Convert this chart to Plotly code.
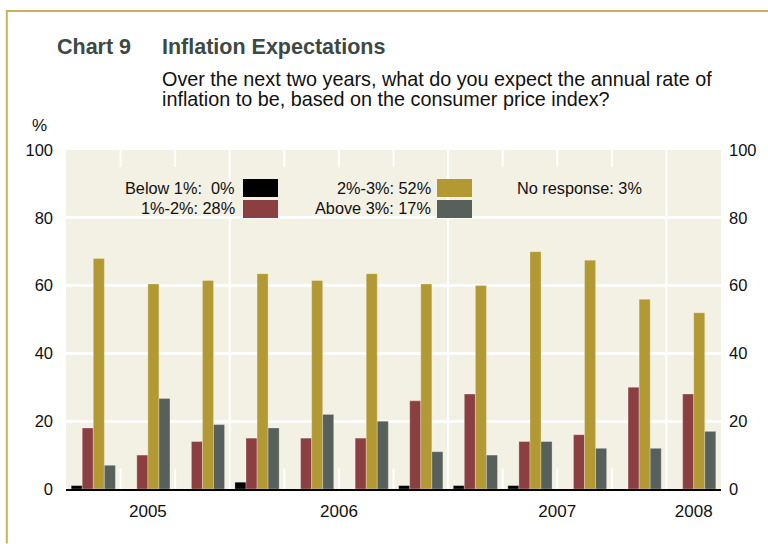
import plotly.graph_objects as go

# ---- data ----
quarters = ["2005Q2", "2005Q3", "2005Q4",
            "2006Q1", "2006Q2", "2006Q3", "2006Q4",
            "2007Q1", "2007Q2", "2007Q3", "2007Q4",
            "2008Q1"]
below_1 = [1, 0, 0, 2, 0, 0, 1, 1, 1, 0, 0, 0]
one_two = [18, 10, 14, 15, 15, 15, 26, 28, 14, 16, 30, 28]
two_three = [68, 60.5, 61.5, 63.5, 61.5, 63.5, 60.5, 60, 70, 67.5, 56, 52]
above_3 = [7, 26.7, 19, 18, 22, 20, 11, 10, 14, 12, 12, 17]
year_labels = ["2005", "2006", "2007", "2008"]
year_quarters = [3, 4, 4, 1]
legend_text = {
    "below": "Below 1%:\u00a0 0%",
    "onetwo": "1%-2%: 28%",
    "twothree": "2%-3%: 52%",
    "above": "Above 3%: 17%",
    "none": "No response: 3%",
}

C_BLACK = "#000000"
C_RED = "#8B3F40"
C_GOLD = "#B39934"
C_GRAY = "#57605A"
BG = "#F3F0E4"
FONT = "Liberation Sans, Arial, sans-serif"

W, H = 768, 544
L, R, T, B = 66, 47, 150, 54.5
PW, PH = W - L - R, H - T - B


def px(x):
    return (x - L) / PW


def py(y):
    return (H - B - y) / PH


xs = list(range(len(quarters)))
fig = go.Figure()
for name, vals, col in [("Below 1%", below_1, C_BLACK), ("1%-2%", one_two, C_RED),
                        ("2%-3%", two_three, C_GOLD), ("Above 3%", above_3, C_GRAY)]:
    fig.add_trace(go.Bar(x=xs, y=vals, name=name, marker_color=col,
                         marker_line=dict(width=0.8, color="rgba(255,255,255,0.35)"),
                         hoverinfo="skip"))
# invisible trace for right axis
fig.add_trace(go.Scatter(x=[xs[0]], y=[0], yaxis="y2", mode="markers",
                         marker=dict(opacity=0), showlegend=False, hoverinfo="skip"))

# year positions
centers, boundaries = [], []
start = 0
for n in year_quarters:
    centers.append(start + (n - 1) / 2)
    start += n
    boundaries.append(start - 0.5)
boundaries = boundaries[:-1]
minor = [i + 0.5 for i in range(len(quarters) - 1) if (i + 0.5) not in boundaries]

shapes = []
for b in boundaries:
    shapes.append(dict(type="line", xref="x", yref="paper", x0=b, x1=b, y0=0, y1=1,
                       line=dict(color="white", width=2), layer="below"))
for m in minor:
    shapes.append(dict(type="line", xref="x", yref="y", x0=m, x1=m, y0=95, y1=100,
                       line=dict(color="white", width=2), layer="below"))
    shapes.append(dict(type="line", xref="x", yref="y", x0=m, x1=m, y0=0, y1=6,
                       line=dict(color="white", width=2), layer="below"))

# outer frame lines
shapes.append(dict(type="line", xref="paper", yref="paper", x0=px(6), x1=px(768),
                   y0=py(10.8), y1=py(10.8), line=dict(color="#C8B35C", width=2)))
shapes.append(dict(type="line", xref="paper", yref="paper", x0=px(6.8), x1=px(6.8),
                   y0=py(10), y1=py(544), line=dict(color="#C8B35C", width=2)))

# legend swatches
for (x0, y0, col) in [(243, 179, C_BLACK), (243, 200, C_RED),
                      (437, 179, C_GOLD), (437, 200, C_GRAY)]:
    shapes.append(dict(type="rect", xref="paper", yref="paper",
                       x0=px(x0), x1=px(x0 + 35), y0=py(y0), y1=py(y0 + 18),
                       fillcolor=col, line=dict(width=0)))

ann = []
TITLE_C = "#3D4944"
ann.append(dict(text="<b>Chart 9</b>", x=px(55), y=py(47), xanchor="left", yanchor="middle",
                font=dict(size=21.5, color=TITLE_C, family=FONT)))
ann.append(dict(text="<b>Inflation Expectations</b>", x=px(160), y=py(47), xanchor="left",
                yanchor="middle", font=dict(size=21.5, color=TITLE_C, family=FONT)))
ann.append(dict(text="Over the next two years, what do you expect the annual rate of",
                x=px(160), y=py(79), xanchor="left", yanchor="middle",
                font=dict(size=19.8, color="#111111", family=FONT)))
ann.append(dict(text="inflation to be, based on the consumer price index?",
                x=px(160), y=py(99), xanchor="left", yanchor="middle",
                font=dict(size=19.8, color="#111111", family=FONT)))
ann.append(dict(text="%", x=px(30), y=py(125), xanchor="left", yanchor="middle",
                font=dict(size=17, color="#111111", family=FONT)))
for key, x, y, anchor in [("below", 237, 188.5, "right"), ("onetwo", 237, 208, "right"),
                          ("twothree", 433, 188.5, "right"), ("above", 433, 208, "right"),
                          ("none", 515, 188.5, "left")]:
    ann.append(dict(text=legend_text[key], x=px(x), y=py(y), xanchor=anchor, yanchor="middle",
                    font=dict(size=16.3, color="#111111", family=FONT)))
for a in ann:
    a.update(xref="paper", yref="paper", showarrow=False)

fig.update_layout(
    width=W, height=H,
    margin=dict(l=L, r=R, t=T, b=B, pad=0),
    paper_bgcolor="white", plot_bgcolor=BG,
    barmode="group", bargap=0.19, bargroupgap=0,
    showlegend=False,
    font=dict(family=FONT, size=16, color="#111111"),
    xaxis=dict(range=[-0.5, len(quarters) - 0.5], tickmode="array", tickvals=centers,
               ticktext=year_labels, showgrid=False, zeroline=False, showline=True,
               linecolor="black", linewidth=1.5, ticks="", ticklabelstandoff=6,
               tickfont=dict(size=17, color="#111111")),
    yaxis=dict(range=[0, 100], dtick=20, showgrid=True, gridcolor="white", gridwidth=2.5,
               zeroline=False, ticks="", ticklabelstandoff=12,
               tickfont=dict(size=16.5, color="#111111")),
    yaxis2=dict(range=[0, 100], dtick=20, overlaying="y", side="right", showgrid=False,
                zeroline=False, ticks="", ticklabelstandoff=7,
                tickfont=dict(size=16.5, color="#111111")),
    shapes=shapes, annotations=ann,
)

fig.write_html("out.html", config={"displayModeBar": False},
               post_script="document.body.style.margin='0';document.body.style.padding='0';")
